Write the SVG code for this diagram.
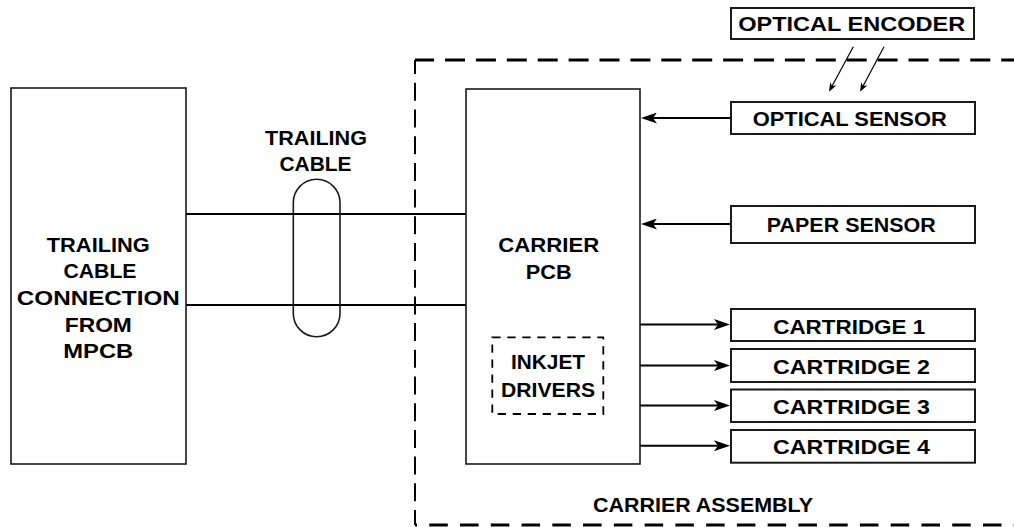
<svg xmlns="http://www.w3.org/2000/svg" width="1014" height="527" viewBox="0 0 1014 527">
  <style>
    .box { fill: #fff; stroke: #1a1a1a; stroke-width: 1.6; }
    .sbox { fill: #fff; stroke: #1a1a1a; stroke-width: 2; }
    .lbl { font-family: "Liberation Sans", Arial, sans-serif; font-weight: bold; font-size: 20px; fill: #000; text-anchor: middle; }
    .wire { stroke: #000; stroke-width: 2; fill: none; }
    .thin { stroke: #000; stroke-width: 1.2; fill: none; }
  </style>
  <defs>
    <marker id="arr" viewBox="0 0 16 11" refX="4" refY="5.5" markerWidth="16" markerHeight="11" markerUnits="userSpaceOnUse" orient="auto">
      <path d="M0,0 L16,5.5 L0,11 L4,5.5 Z" fill="#000"/>
    </marker>
    <marker id="arrs" viewBox="0 0 9 7" refX="2.5" refY="3.5" markerWidth="9" markerHeight="7" markerUnits="userSpaceOnUse" orient="auto">
      <path d="M0,0 L9,3.5 L0,7 L2.5,3.5 Z" fill="#000"/>
    </marker>
  </defs>
  <rect width="1014" height="527" fill="#fff"/>

  <g id="carrier-assembly">
    <line x1="415" y1="60" x2="1014" y2="60" stroke="#000" stroke-width="3" stroke-dasharray="20 10.9" stroke-dashoffset="0.9"/>
    <line x1="415" y1="60" x2="415" y2="525" stroke="#000" stroke-width="2" stroke-dasharray="18 8.7" stroke-dashoffset="3.9"/>
    <line x1="415" y1="525" x2="1014" y2="525" stroke="#000" stroke-width="3" stroke-dasharray="18.5 12.26" stroke-dashoffset="16.46"/>
    <text class="lbl" x="703" y="511.5" textLength="220" lengthAdjust="spacingAndGlyphs">CARRIER ASSEMBLY</text>
  </g>

  <g id="connectors">
    <line class="wire" x1="186" y1="214" x2="466" y2="214"/>
    <line class="wire" x1="186" y1="305" x2="466" y2="305"/>
    <line class="wire" x1="731" y1="118" x2="653" y2="118" marker-end="url(#arr)"/>
    <line class="wire" x1="731" y1="224" x2="653" y2="224" marker-end="url(#arr)"/>
    <line class="wire" x1="640" y1="324.5" x2="718" y2="324.5" marker-end="url(#arr)"/>
    <line class="wire" x1="640" y1="365.5" x2="718" y2="365.5" marker-end="url(#arr)"/>
    <line class="wire" x1="640" y1="405.5" x2="718" y2="405.5" marker-end="url(#arr)"/>
    <line class="wire" x1="640" y1="445.7" x2="718" y2="445.7" marker-end="url(#arr)"/>
    <line class="thin" x1="853.3" y1="46.7" x2="832.1" y2="86" marker-end="url(#arrs)"/>
    <line class="thin" x1="884" y1="46.7" x2="863.1" y2="86" marker-end="url(#arrs)"/>
  </g>

  <g id="trailing-cable">
    <rect x="293.3" y="179.3" width="46.7" height="157.4" rx="23.3" ry="23.3" fill="none" stroke="#1a1a1a" stroke-width="1.6"/>
    <text class="lbl" x="316" y="145" textLength="102" lengthAdjust="spacingAndGlyphs">TRAILING</text>
    <text class="lbl" x="315.5" y="170.7" textLength="72" lengthAdjust="spacingAndGlyphs">CABLE</text>
  </g>

  <g id="mpcb-connection">
    <rect class="box" x="11" y="88" width="175" height="376"/>
    <text class="lbl" x="98.3" y="251.7" textLength="103" lengthAdjust="spacingAndGlyphs">TRAILING</text>
    <text class="lbl" x="100" y="278.3" textLength="73" lengthAdjust="spacingAndGlyphs">CABLE</text>
    <text class="lbl" x="98.3" y="305" textLength="163" lengthAdjust="spacingAndGlyphs">CONNECTION</text>
    <text class="lbl" x="98.3" y="331.7" textLength="67" lengthAdjust="spacingAndGlyphs">FROM</text>
    <text class="lbl" x="98.3" y="358.3" textLength="70" lengthAdjust="spacingAndGlyphs">MPCB</text>
  </g>

  <g id="carrier-pcb">
    <rect class="box" x="466" y="89" width="174" height="375"/>
    <text class="lbl" x="548.8" y="252" textLength="101" lengthAdjust="spacingAndGlyphs">CARRIER</text>
    <text class="lbl" x="548.8" y="278.5" textLength="46" lengthAdjust="spacingAndGlyphs">PCB</text>
  </g>

  <g id="inkjet-drivers">
    <rect x="492.3" y="337.3" width="111" height="76.7" fill="none" stroke="#000" stroke-width="1.8" stroke-dasharray="8.3 6.7"/>
    <text class="lbl" x="548" y="369" textLength="74" lengthAdjust="spacingAndGlyphs">INKJET</text>
    <text class="lbl" x="548" y="396.5" textLength="94" lengthAdjust="spacingAndGlyphs">DRIVERS</text>
  </g>

  <g id="optical-encoder">
    <rect class="sbox" x="731" y="8" width="243" height="31"/>
    <text class="lbl" x="851.7" y="31" textLength="227" lengthAdjust="spacingAndGlyphs">OPTICAL ENCODER</text>
  </g>

  <g id="optical-sensor">
    <rect class="sbox" x="731" y="102" width="244" height="32"/>
    <text class="lbl" x="849.7" y="126" textLength="194" lengthAdjust="spacingAndGlyphs">OPTICAL SENSOR</text>
  </g>

  <g id="paper-sensor">
    <rect class="sbox" x="731" y="206" width="244" height="37"/>
    <text class="lbl" x="851.3" y="231.5" textLength="169" lengthAdjust="spacingAndGlyphs">PAPER SENSOR</text>
  </g>

  <g id="cartridge-1">
    <rect class="sbox" x="731" y="309" width="244" height="32"/>
    <text class="lbl" x="849.2" y="334" textLength="152" lengthAdjust="spacingAndGlyphs">CARTRIDGE 1</text>
  </g>

  <g id="cartridge-2">
    <rect class="sbox" x="731" y="349" width="244" height="33"/>
    <text class="lbl" x="851.5" y="373.5" textLength="157" lengthAdjust="spacingAndGlyphs">CARTRIDGE 2</text>
  </g>

  <g id="cartridge-3">
    <rect class="sbox" x="731" y="389.5" width="244" height="32.5"/>
    <text class="lbl" x="851.5" y="414" textLength="157" lengthAdjust="spacingAndGlyphs">CARTRIDGE 3</text>
  </g>

  <g id="cartridge-4">
    <rect class="sbox" x="731" y="430" width="244" height="32.7"/>
    <text class="lbl" x="851.5" y="454" textLength="157" lengthAdjust="spacingAndGlyphs">CARTRIDGE 4</text>
  </g>
</svg>
